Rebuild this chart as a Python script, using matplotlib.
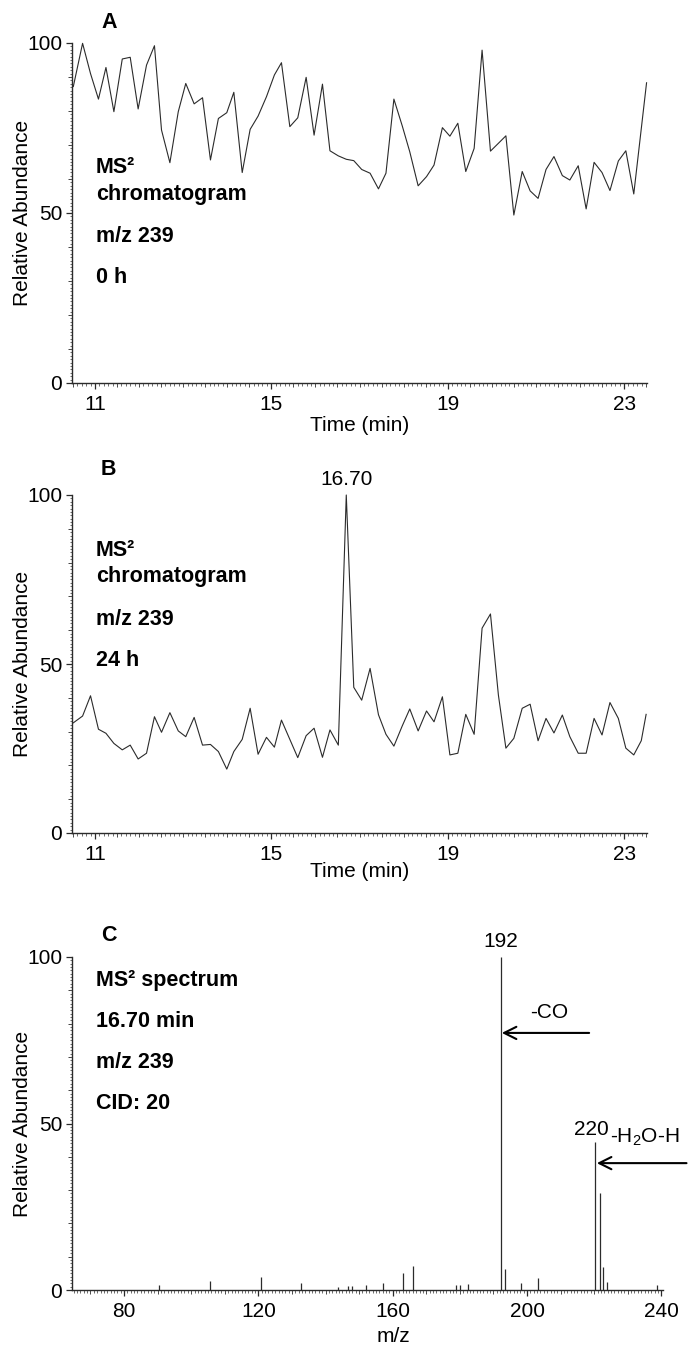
import matplotlib
matplotlib.use("Agg")
import matplotlib.pyplot as plt
from matplotlib.ticker import MultipleLocator, FixedLocator, NullFormatter

plt.rcParams['font.family'] = ['Liberation Sans', 'DejaVu Sans']
plt.rcParams['mathtext.fontset'] = 'custom'
plt.rcParams['mathtext.rm'] = 'Liberation Sans'
plt.rcParams['mathtext.it'] = 'Liberation Sans:italic'
plt.rcParams['mathtext.bf'] = 'Liberation Sans:bold'

# ---------------- data ----------------
time_a = [10.51, 10.72, 10.90, 11.08, 11.25, 11.43, 11.62, 11.80, 11.98, 12.17,
          12.35, 12.51, 12.70, 12.89, 13.06, 13.25, 13.44, 13.62, 13.80, 13.99,
          14.15, 14.34, 14.52, 14.70, 14.89, 15.07, 15.23, 15.42, 15.60, 15.79,
          15.97, 16.16, 16.33, 16.52, 16.70, 16.87, 17.05, 17.24, 17.43, 17.60,
          17.78, 17.97, 18.14, 18.33, 18.52, 18.69, 18.88, 19.05, 19.23, 19.41,
          19.60, 19.78, 19.97, 20.15, 20.32, 20.50, 20.69, 20.87, 21.05, 21.23,
          21.41, 21.60, 21.77, 21.96, 22.14, 22.32, 22.50, 22.68, 22.87, 23.04,
          23.22, 23.51]
abund_a = [87.2, 99.9, 91.0, 83.5, 92.8, 79.8, 95.3, 95.8, 80.6, 93.5,
           99.2, 74.4, 64.8, 79.8, 88.1, 82.1, 83.9, 65.6, 77.8, 79.5,
           85.5, 61.9, 74.6, 78.5, 84.2, 90.6, 94.2, 75.4, 78.0, 89.9,
           72.9, 87.9, 68.3, 66.8, 65.8, 65.4, 62.8, 61.7, 57.1, 61.7,
           83.5, 75.6, 68.0, 58.0, 60.7, 64.1, 75.1, 72.6, 76.4, 62.2,
           69.0, 97.9, 68.2, 70.5, 72.7, 49.4, 62.2, 56.5, 54.3, 62.8,
           66.6, 61.0, 59.7, 63.9, 51.2, 64.9, 61.9, 56.6, 65.3, 68.3,
           55.6, 88.3]

time_b = [10.51, 10.72, 10.90, 11.08, 11.25, 11.43, 11.62, 11.80, 11.98, 12.17,
          12.35, 12.51, 12.70, 12.89, 13.06, 13.25, 13.44, 13.62, 13.80, 13.99,
          14.15, 14.34, 14.52, 14.70, 14.89, 15.07, 15.23, 15.42, 15.60, 15.79,
          15.97, 16.16, 16.33, 16.52, 16.70, 16.87, 17.05, 17.24, 17.43, 17.60,
          17.78, 17.97, 18.14, 18.33, 18.52, 18.69, 18.88, 19.05, 19.23, 19.41,
          19.60, 19.78, 19.97, 20.15, 20.32, 20.50, 20.69, 20.87, 21.05, 21.23,
          21.41, 21.60, 21.77, 21.96, 22.14, 22.32, 22.50, 22.68, 22.87, 23.04,
          23.22, 23.39, 23.50]
abund_b = [32.6, 34.6, 40.6, 30.7, 29.5, 26.5, 24.6, 26.0, 21.9, 23.6,
           34.4, 29.8, 35.6, 30.2, 28.5, 34.2, 26.0, 26.2, 24.1, 18.9,
           24.1, 27.7, 36.9, 23.3, 28.3, 25.4, 33.4, 27.7, 22.3, 28.8,
           31.0, 22.4, 30.5, 26.0, 100.0, 43.1, 39.3, 48.7, 35.0, 29.2,
           25.7, 31.7, 36.7, 30.2, 36.1, 32.9, 40.3, 23.1, 23.6, 35.1,
           29.2, 60.6, 64.8, 40.8, 25.1, 28.0, 36.9, 38.1, 27.3, 33.9,
           29.6, 34.9, 28.5, 23.6, 23.6, 33.9, 29.0, 38.6, 33.9, 25.1,
           23.1, 27.3, 35.1]

mz_c = [90.4, 105.6, 120.7, 132.7, 143.6, 146.7, 147.8, 152.1, 157.0, 163.2,
        166.1, 179.0, 180.1, 182.3, 192.3, 193.3, 198.3, 203.4, 220.2, 221.6,
        222.5, 223.7, 238.7]
intens_c = [1.5, 2.7, 4.0, 2.0, 1.0, 1.2, 1.2, 1.5, 2.0, 5.0,
            7.3, 1.6, 1.6, 1.8, 100.0, 6.4, 2.0, 3.5, 44.4, 29.0,
            6.9, 2.4, 1.6]

time_ticks = [11, 15, 19, 23]
mz_ticks = [80, 120, 160, 200, 240]
abund_ticks = [0, 50, 100]

# ---------------- layout ----------------
W, H = 694, 1349
fig = plt.figure(figsize=(W / 100, H / 100), dpi=100)


def fx(px):
    return px / W


def fy(py):
    return 1 - py / H


LINE = '#2b2b2b'
TICK_FS = 15
BOLD_FS = 15.5


def make_axes(left, top, right, bottom, xlim, xticks, xminor, xmed, xlabel, xlabel_y, xlabel_x=None):
    ax = fig.add_axes([fx(left), fy(bottom), (right - left) / W, (bottom - top) / H])
    for s in ['top', 'right']:
        ax.spines[s].set_visible(False)
    for s in ['left', 'bottom']:
        ax.spines[s].set_color(LINE)
        ax.spines[s].set_linewidth(1.0)
    ax.set_xlim(*xlim)
    ax.set_ylim(0, 100)
    ax.xaxis.set_major_locator(FixedLocator(xticks))
    ax.xaxis.set_minor_locator(MultipleLocator(xminor))
    ax.yaxis.set_major_locator(FixedLocator(abund_ticks))
    ax.yaxis.set_minor_locator(MultipleLocator(1))
    ax.tick_params(which='major', length=4.5, width=0.9, color=LINE, labelsize=TICK_FS, direction='out')
    ax.tick_params(which='minor', length=1.8, width=0.6, color='#555555', direction='out')
    ax.tick_params(axis='x', which='major', pad=4)
    ax.tick_params(axis='y', which='major', pad=2.5)
    ax.set_xticklabels([str(t) for t in xticks])
    ax.set_yticklabels([str(t) for t in abund_ticks])
    # medium-length ticks
    secx = ax.secondary_xaxis('bottom')
    secx.xaxis.set_major_locator(MultipleLocator(xmed))
    secx.xaxis.set_major_formatter(NullFormatter())
    secx.tick_params(length=3, width=0.7, color='#444444')
    secx.spines['bottom'].set_visible(False)
    secy = ax.secondary_yaxis('left')
    secy.yaxis.set_major_locator(MultipleLocator(10))
    secy.yaxis.set_major_formatter(NullFormatter())
    secy.tick_params(length=3, width=0.7, color='#444444')
    secy.spines['left'].set_visible(False)
    cx = (left + right) / 2 if xlabel_x is None else xlabel_x
    fig.text(fx(cx), fy(xlabel_y), xlabel, ha='center', va='baseline', fontsize=TICK_FS)
    fig.text(fx(23), fy((top + bottom) / 2), 'Relative Abundance', rotation=90,
             ha='center', va='center', fontsize=TICK_FS)
    return ax


# Panel A
axA = make_axes(72, 43, 647, 383, (10.48, 23.52), time_ticks, 0.1, 0.5, 'Time (min)', 431)
axA.plot(time_a, abund_a, color=LINE, lw=0.8, clip_on=False)
fig.text(fx(101), fy(28), 'A', fontsize=15.5, fontweight='bold', ha='left', va='baseline')
for txt, by in [('MS²', 173), ('chromatogram', 200), ('m/z 239', 242), ('0 h', 283)]:
    fig.text(fx(96), fy(by), txt, fontsize=BOLD_FS, fontweight='bold', ha='left', va='baseline')

# Panel B
axB = make_axes(72, 495, 647, 833, (10.48, 23.52), time_ticks, 0.1, 0.5, 'Time (min)', 877)
axB.plot(time_b, abund_b, color=LINE, lw=0.8, clip_on=False)
fig.text(fx(101), fy(475), 'B', fontsize=15.5, fontweight='bold', ha='left', va='baseline')
for txt, by in [('MS²', 556), ('chromatogram', 582), ('m/z 239', 625), ('24 h', 666)]:
    fig.text(fx(96), fy(by), txt, fontsize=BOLD_FS, fontweight='bold', ha='left', va='baseline')
axB.annotate('16.70', xy=(time_b[abund_b.index(max(abund_b))], 100), xytext=(0, 4),
             textcoords='offset points', ha='center', va='bottom', fontsize=TICK_FS,
             annotation_clip=False)

# Panel C
axC = make_axes(72, 957, 663, 1290, (64.5, 240.5), mz_ticks, 1, 10, 'm/z', 1342, xlabel_x=393)
axC.vlines(mz_c, 0, intens_c, colors=LINE, lw=0.9, clip_on=False)
fig.text(fx(101), fy(941), 'C', fontsize=15.5, fontweight='bold', ha='left', va='baseline')
for txt, by in [('MS² spectrum', 986), ('16.70 min', 1027), ('m/z 239', 1068), ('CID: 20', 1109)]:
    fig.text(fx(96), fy(by), txt, fontsize=BOLD_FS, fontweight='bold', ha='left', va='baseline')

axC.annotate('192', xy=(192.3, 100), xytext=(0, 4), textcoords='offset points',
             ha='center', va='bottom', fontsize=TICK_FS, annotation_clip=False)
axC.annotate('220', xy=(219.3, 44.4), xytext=(0, 2), textcoords='offset points',
             ha='center', va='bottom', fontsize=TICK_FS, annotation_clip=False)
axC.text(224.6, 44.2, r'-H$_2$O-H', ha='left', va='baseline', fontsize=TICK_FS, clip_on=False)
axC.text(206.5, 81.7, '-CO', ha='center', va='baseline', fontsize=TICK_FS, clip_on=False)

arrow_kw = dict(arrowstyle='->', lw=1.5, color='black', shrinkA=0, shrinkB=0, mutation_scale=22)
axC.annotate('', xy=(192.5, 77.2), xytext=(218.5, 77.2), arrowprops=arrow_kw, annotation_clip=False)
axC.annotate('', xy=(220.8, 38.1), xytext=(247.5, 38.1), arrowprops=arrow_kw, annotation_clip=False)

fig.savefig('out.png', dpi=100)
